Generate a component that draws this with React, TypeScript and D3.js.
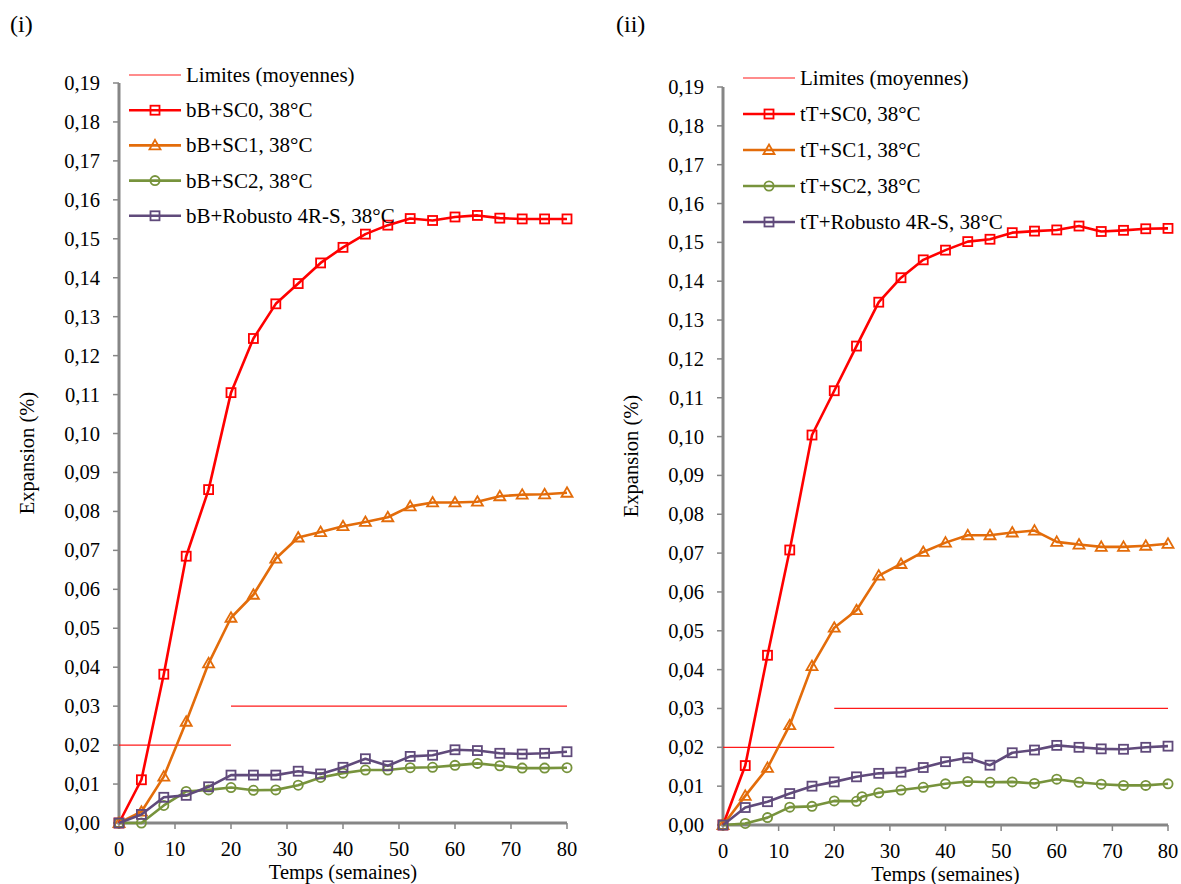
import React from "react";
import * as d3 from "d3";

// ---------- DATA ----------
const weeks = [0, 4, 8, 12, 16, 20, 24, 28, 32, 36, 40, 44, 48, 52, 56, 60, 64, 68, 72, 76, 80];
const weeksSC2ii = [0, 4, 8, 12, 16, 20, 24, 25, 28, 32, 36, 40, 44, 48, 52, 56, 60, 64, 68, 72, 76, 80];

const bbSC0 = [0, 0.0111, 0.0382, 0.0685, 0.0856, 0.1105, 0.1244, 0.1333, 0.1385, 0.1438, 0.1478, 0.1512, 0.1535, 0.1552, 0.1547, 0.1556, 0.156, 0.1553, 0.1551, 0.1551, 0.1551];
const bbSC1 = [0, 0.0029, 0.0119, 0.026, 0.041, 0.0527, 0.0586, 0.0679, 0.0733, 0.0747, 0.0762, 0.0773, 0.0785, 0.0813, 0.0823, 0.0823, 0.0825, 0.0839, 0.0843, 0.0844, 0.0848];
const bbSC2 = [0, 0.0, 0.0045, 0.0081, 0.0085, 0.0091, 0.0084, 0.0085, 0.0097, 0.0117, 0.0128, 0.0136, 0.0136, 0.0142, 0.0143, 0.0148, 0.0153, 0.0147, 0.0141, 0.0141, 0.0142];
const bbRob = [0, 0.0022, 0.0066, 0.0071, 0.0093, 0.0123, 0.0123, 0.0123, 0.0133, 0.0126, 0.0143, 0.0165, 0.0147, 0.0171, 0.0174, 0.0188, 0.0186, 0.0179, 0.0177, 0.0179, 0.0183];

const ttSC0 = [0, 0.0153, 0.0437, 0.0708, 0.1004, 0.1118, 0.1233, 0.1346, 0.1409, 0.1455, 0.148, 0.1502, 0.1508, 0.1525, 0.1529, 0.1532, 0.1542, 0.1528, 0.1531, 0.1535, 0.1536];
const ttSC1 = [0, 0.0075, 0.0147, 0.0257, 0.0409, 0.0508, 0.0553, 0.0642, 0.0672, 0.0703, 0.0727, 0.0746, 0.0746, 0.0753, 0.0758, 0.0729, 0.0722, 0.0716, 0.0716, 0.0719, 0.0724];
const ttSC2 = [0, 0.0004, 0.0019, 0.0046, 0.0048, 0.0062, 0.0061, 0.0073, 0.0083, 0.009, 0.0097, 0.0106, 0.0112, 0.011, 0.0111, 0.0107, 0.0118, 0.011, 0.0105, 0.0102, 0.0102, 0.0106];
const ttRob = [0, 0.0045, 0.006, 0.0081, 0.01, 0.0111, 0.0124, 0.0133, 0.0136, 0.0148, 0.0163, 0.0173, 0.0154, 0.0186, 0.0193, 0.0205, 0.02, 0.0196, 0.0195, 0.02, 0.0203];

// limits: segments in weeks and their level
const limitsX = [[0, 20], [20, 80]];
const limitsY = [0.02, 0.03];

const yTicks = d3.range(0, 20).map((i) => i / 100);
const xTicks = [0, 10, 20, 30, 40, 50, 60, 70, 80];

const namesI = ["Limites (moyennes)", "bB+SC0, 38°C", "bB+SC1, 38°C", "bB+SC2, 38°C", "bB+Robusto 4R-S, 38°C"];
const namesII = ["Limites (moyennes)", "tT+SC0, 38°C", "tT+SC1, 38°C", "tT+SC2, 38°C", "tT+Robusto 4R-S, 38°C"];

const COLORS = { limit: "#FF1A1A", sc0: "#FF0000", sc1: "#E36C0A", sc2: "#77933C", rob: "#604A7B" };
const FONT = "\"Liberation Serif\"";

type Series = { x: number[]; y: number[]; color: string; marker: "square" | "triangle" | "circle" };

function Marker({ kind, cx, cy, color }: { kind: string; cx: number; cy: number; color: string }) {
  if (kind === "square") return <rect x={cx - 4.5} y={cy - 4.5} width={9} height={9} fill="none" stroke={color} strokeWidth={1.8} />;
  if (kind === "triangle") {
    const p = `${cx},${cy - 5.5} ${cx + 5.5},${cy + 4} ${cx - 5.5},${cy + 4}`;
    return <polygon points={p} fill="none" stroke={color} strokeWidth={1.8} />;
  }
  return <circle cx={cx} cy={cy} r={4.6} fill="none" stroke={color} strokeWidth={1.8} />;
}

function T(props: any) {
  const { children, ...rest } = props;
  return <text {...rest} fill="#000" style={{ fontFamily: FONT }}>{children}</text>;
}

function Panel({ x0, x1, y0, y1, label, labelX, series, names, legX, legY, legStep }: any) {
  const xs = d3.scaleLinear().domain([0, 80]).range([x0, x1]);
  const ys = d3.scaleLinear().domain([0, 0.19]).range([y0, y1]);
  const line = d3.line<[number, number]>().x((d) => xs(d[0])).y((d) => ys(d[1]));
  const axisColor = "#868686";
  const fmt = (v: number) => v.toFixed(2).replace(".", ",");
  const legendSeries: (Series | null)[] = [null, ...series];
  return (
    <g>
      <T x={labelX} y={32} fontSize={24}>{label}</T>
      <T transform={`translate(${x0 - 85},${(y0 + y1) / 2}) rotate(-90)`} textAnchor="middle" fontSize={20.5}>Expansion (%)</T>
      <T x={(x0 + x1) / 2} y={y0 + 56} textAnchor="middle" fontSize={20.5}>Temps (semaines)</T>
      {yTicks.map((t) => (
        <g key={t}>
          <line x1={x0 - 6} x2={x0} y1={ys(t)} y2={ys(t)} stroke={axisColor} strokeWidth={1.5} />
          <T x={x0 - 19} y={ys(t) + 7} textAnchor="end" fontSize={20.5}>{fmt(t)}</T>
        </g>
      ))}
      {xTicks.map((t) => (
        <g key={t}>
          <line x1={xs(t)} x2={xs(t)} y1={y0} y2={y0 + 6} stroke={axisColor} strokeWidth={1.5} />
          <T x={xs(t)} y={y0 + 33} textAnchor="middle" fontSize={20.5}>{t}</T>
        </g>
      ))}
      <line x1={x0} x2={x0} y1={y1} y2={y0 + 1.5} stroke={axisColor} strokeWidth={3} />
      <line x1={x0 - 1.5} x2={x1} y1={y0} y2={y0} stroke={axisColor} strokeWidth={3} />
      {limitsX.map((lx, i) => (
        <line key={i} x1={xs(lx[0])} x2={xs(lx[1])} y1={ys(limitsY[i])} y2={ys(limitsY[i])} stroke={COLORS.limit} strokeWidth={1.2} />
      ))}
      {series.map((s: Series, i: number) => {
        const pts = s.x.map((xv, j) => [xv, s.y[j]] as [number, number]);
        return (
          <g key={i}>
            <path d={line(pts) || ""} fill="none" stroke={s.color} strokeWidth={2.6} strokeLinejoin="round" />
            {pts.map((p, j) => (
              <Marker key={j} kind={s.marker} cx={xs(p[0])} cy={ys(p[1])} color={s.color} />
            ))}
          </g>
        );
      })}
      {names.map((n: string, i: number) => {
        const yy = legY + i * legStep;
        const s = legendSeries[i];
        return (
          <g key={n}>
            <line x1={legX} x2={legX + 52} y1={yy} y2={yy} stroke={s ? s.color : COLORS.limit} strokeWidth={s ? 2.6 : 1.2} />
            {s && <Marker kind={s.marker} cx={legX + 26} cy={yy} color={s.color} />}
            <T x={legX + 57} y={yy + 7} fontSize={21}>{n}</T>
          </g>
        );
      })}
    </g>
  );
}

export default function App() {
  const seriesI: Series[] = [
    { x: weeks, y: bbSC0, color: COLORS.sc0, marker: "square" },
    { x: weeks, y: bbSC1, color: COLORS.sc1, marker: "triangle" },
    { x: weeks, y: bbSC2, color: COLORS.sc2, marker: "circle" },
    { x: weeks, y: bbRob, color: COLORS.rob, marker: "square" },
  ];
  const seriesII: Series[] = [
    { x: weeks, y: ttSC0, color: COLORS.sc0, marker: "square" },
    { x: weeks, y: ttSC1, color: COLORS.sc1, marker: "triangle" },
    { x: weeksSC2ii, y: ttSC2, color: COLORS.sc2, marker: "circle" },
    { x: weeks, y: ttRob, color: COLORS.rob, marker: "square" },
  ];
  return (
    <svg width={1181} height={884} style={{ position: "absolute", left: 0, top: 0, background: "#fff" }}>
      <rect width={1181} height={884} fill="#fff" />
      <Panel x0={119} x1={567} y0={823} y1={83} label="(i)" labelX={10} series={seriesI} names={namesI} legX={129} legY={75} legStep={35.2} />
      <Panel x0={723} x1={1168} y0={825} y1={87} label="(ii)" labelX={616} series={seriesII} names={namesII} legX={743} legY={78} legStep={36} />
    </svg>
  );
}
